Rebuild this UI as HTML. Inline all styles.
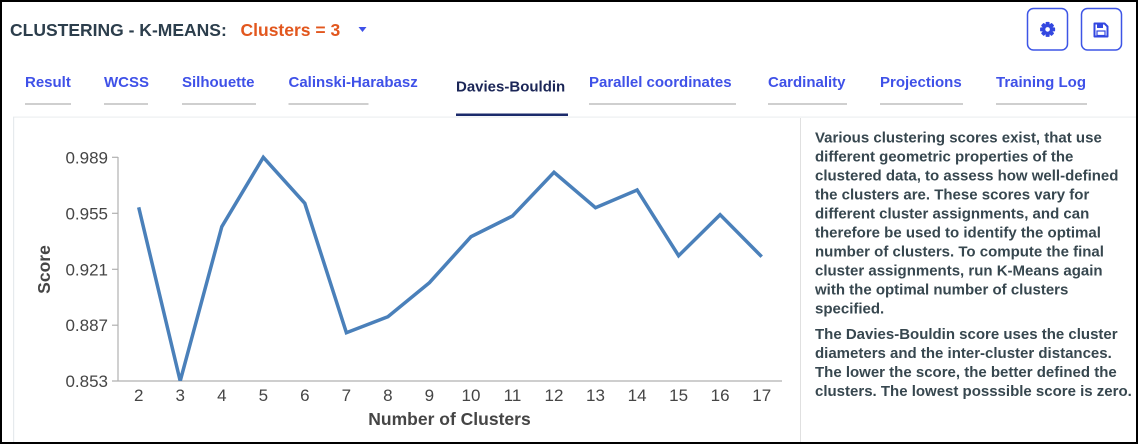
<!DOCTYPE html>
<html>
<head>
<meta charset="utf-8">
<style>
  html,body{margin:0;padding:0;background:#fff;}
  body{width:1138px;height:444px;overflow:hidden;}
  svg{display:block;}
  text{font-family:"Liberation Sans",Arial,sans-serif;}
</style>
</head>
<body>
<svg width="1138" height="444" viewBox="0 0 1138 444" xmlns="http://www.w3.org/2000/svg">
  <rect x="0" y="0" width="1138" height="444" fill="#fff"/>

  <!-- Header -->
  <text x="10" y="36" font-size="17.5" font-weight="bold" fill="#2c3e4c">CLUSTERING - K-MEANS:</text>
  <text x="240.5" y="36" font-size="17.5" font-weight="bold" fill="#e2571e">Clusters = 3</text>
  <path d="M358.5 27 L366.5 27 L362.5 32 Z" fill="#3f51e8"/>

  <!-- Buttons -->
  <rect x="1027.5" y="8.5" width="40" height="41.5" rx="6" ry="6" fill="#fff" stroke="#3d55e6" stroke-width="1.5"/>
  <rect x="1081.5" y="8.5" width="40" height="41.5" rx="6" ry="6" fill="#fff" stroke="#3d55e6" stroke-width="1.5"/>
  <!-- gear -->
  <g transform="translate(1047.6,29.4)" fill="#3347e0">
    <rect x="-2" y="-7.5" width="4" height="15" rx="0.8"/>
    <rect x="-2" y="-7.5" width="4" height="15" rx="0.8" transform="rotate(45)"/>
    <rect x="-2" y="-7.5" width="4" height="15" rx="0.8" transform="rotate(90)"/>
    <rect x="-2" y="-7.5" width="4" height="15" rx="0.8" transform="rotate(135)"/>
    <circle r="5.5"/>
    <circle r="2.3" fill="#fff"/>
  </g>
  <!-- floppy -->
  <g transform="translate(1093.5,22.5)">
    <path d="M1 1 H11 L14 4 V14 H1 Z" fill="none" stroke="#3347e0" stroke-width="2" stroke-linejoin="round"/>
    <rect x="3.5" y="1.5" width="6" height="4" fill="#3347e0"/>
    <rect x="3.5" y="8.5" width="8" height="4.5" fill="#fff" stroke="#3347e0" stroke-width="1.2"/>
  </g>

  <!-- Tabs -->
  <g font-size="15" font-weight="bold" fill="#3f51e8">
    <text x="25" y="87">Result</text>
    <text x="104" y="87">WCSS</text>
    <text x="182" y="87">Silhouette</text>
    <text x="288.5" y="87">Calinski-Harabasz</text>
    <text x="589" y="87">Parallel coordinates</text>
    <text x="768" y="87">Cardinality</text>
    <text x="880" y="87">Projections</text>
    <text x="996" y="87">Training Log</text>
  </g>
  <text x="456" y="91.5" font-size="15" font-weight="bold" fill="#1b2657">Davies-Bouldin</text>
  <!-- tab underlines -->
  <g fill="#cfcfcf">
    <rect x="25" y="103" width="46" height="2"/>
    <rect x="104" y="103" width="44" height="2"/>
    <rect x="182" y="103" width="74" height="2"/>
    <rect x="288.5" y="103" width="80" height="2"/>
    <rect x="589" y="103" width="147" height="2"/>
    <rect x="768" y="103" width="79" height="2"/>
    <rect x="880" y="103" width="83" height="2"/>
    <rect x="996" y="103" width="91" height="2"/>
  </g>
  <rect x="456" y="113.5" width="112" height="2.5" fill="#1b2a6b"/>

  <!-- Panel borders -->
  <rect x="13" y="116.5" width="1125" height="1.2" fill="#eceff1"/>
  <rect x="13" y="117" width="1.2" height="327" fill="#e6eaed"/>
  <rect x="800" y="118" width="1" height="326" fill="#e0e0e0"/>

  <!-- Chart axes -->
  <g stroke="#b0b0b0" stroke-width="1.2" fill="none">
    <line x1="118" y1="157" x2="118" y2="381.5"/>
    <line x1="112" y1="381" x2="782" y2="381"/>
    <line x1="112" y1="157.3" x2="118" y2="157.3"/>
    <line x1="112" y1="213.3" x2="118" y2="213.3"/>
    <line x1="112" y1="269.3" x2="118" y2="269.3"/>
    <line x1="112" y1="325.2" x2="118" y2="325.2"/>
  </g>
  <g font-size="17" fill="#454545" text-anchor="end">
    <text x="108" y="163.3">0.989</text>
    <text x="108" y="219.3">0.955</text>
    <text x="108" y="275.3">0.921</text>
    <text x="108" y="331.2">0.887</text>
    <text x="108" y="387">0.853</text>
  </g>
  <g font-size="17" fill="#454545" text-anchor="middle">
    <text x="138.7" y="401">2</text>
    <text x="180.2" y="401">3</text>
    <text x="221.8" y="401">4</text>
    <text x="263.3" y="401">5</text>
    <text x="304.8" y="401">6</text>
    <text x="346.4" y="401">7</text>
    <text x="387.9" y="401">8</text>
    <text x="429.4" y="401">9</text>
    <text x="471.0" y="401">10</text>
    <text x="512.5" y="401">11</text>
    <text x="554.0" y="401">12</text>
    <text x="595.5" y="401">13</text>
    <text x="637.1" y="401">14</text>
    <text x="678.6" y="401">15</text>
    <text x="720.1" y="401">16</text>
    <text x="761.7" y="401">17</text>
  </g>
  <text x="449.5" y="425" font-size="17.5" font-weight="bold" fill="#454545" text-anchor="middle">Number of Clusters</text>
  <text transform="translate(50,269.5) rotate(-90)" font-size="17.5" font-weight="bold" fill="#454545" text-anchor="middle">Score</text>

  <defs>
    <clipPath id="plotclip"><rect x="118" y="140" width="680" height="241"/></clipPath>
  </defs>
  <polyline clip-path="url(#plotclip)" fill="none" stroke="#4a80ba" stroke-width="3.5" stroke-linejoin="miter" stroke-miterlimit="10"
    points="138.7,207.3 180.2,381 221.8,226.7 263.3,157.3 304.8,203.3 346.4,332.7 387.9,316.7 429.4,282.7 471.0,236.7 512.5,216 554.0,172.3 595.5,207.7 637.1,190 678.6,255.7 720.1,214.7 761.7,256.7"/>

  <!-- Description text -->
  <g font-size="15" font-weight="bold" fill="#37474f">
    <text x="815" y="142.5">Various clustering scores exist, that use</text>
    <text x="815" y="161.5">different geometric properties of the</text>
    <text x="815" y="180.5">clustered data, to assess how well-defined</text>
    <text x="815" y="199.5">the clusters are. These scores vary for</text>
    <text x="815" y="218.5">different cluster assignments, and can</text>
    <text x="815" y="237.5">therefore be used to identify the optimal</text>
    <text x="815" y="256.5">number of clusters. To compute the final</text>
    <text x="815" y="275.5">cluster assignments, run K-Means again</text>
    <text x="815" y="294.5">with the optimal number of clusters</text>
    <text x="815" y="313.5">specified.</text>
    <text x="815" y="339">The Davies-Bouldin score uses the cluster</text>
    <text x="815" y="358">diameters and the inter-cluster distances.</text>
    <text x="815" y="377">The lower the score, the better defined the</text>
    <text x="815" y="396">clusters. The lowest posssible score is zero.</text>
  </g>

  <!-- Outer black frame -->
  <rect x="1" y="1" width="1136" height="442" fill="none" stroke="#000" stroke-width="2"/>
</svg>
</body>
</html>
